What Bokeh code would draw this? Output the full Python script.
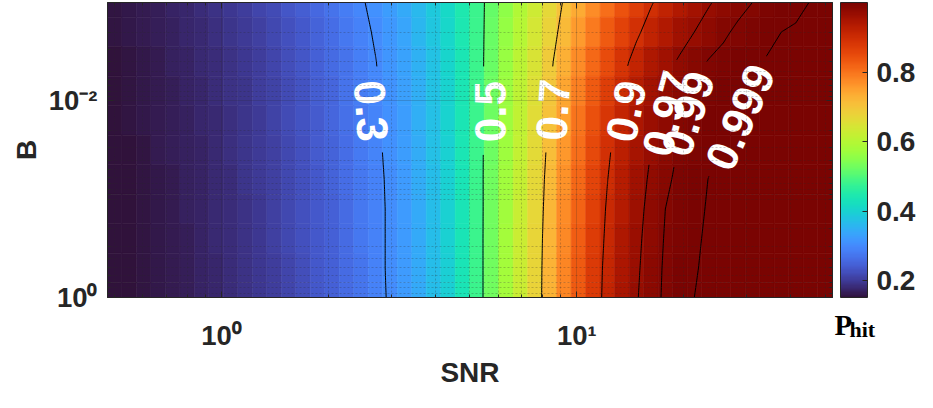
import numpy as np
from contourpy import contour_generator
from bokeh.plotting import figure
from bokeh.layouts import row
from bokeh.models import (Range1d, FixedTicker, LogAxis, ColorBar, LinearColorMapper,
                          ColumnDataSource, CustomJSTickFormatter, Label)
from bokeh.palettes import Turbo256
from bokeh.transform import transform
from bokeh.embed import file_html
from bokeh.resources import INLINE
from bokeh.core.properties import value

# ---------------- data ----------------
SNR = [0.500, 0.549, 0.603, 0.663, 0.728, 0.800, 0.878, 0.965, 1.060, 1.164,
       1.279, 1.405, 1.543, 1.695, 1.862, 2.045, 2.247, 2.468, 2.711, 2.979,
       3.272, 3.594, 3.948, 4.337, 4.764, 5.234, 5.749, 6.316, 6.938, 7.621,
       8.372, 9.197, 10.10, 11.10, 12.19, 13.39, 14.71, 16.16, 17.75, 19.50,
       21.42, 23.53, 25.85, 28.40, 31.20, 34.27, 37.65, 41.36, 45.43, 50.00]

B = [0.001, 0.001995, 0.003981, 0.007943, 0.01585, 0.03162, 0.0631, 0.1259, 0.2512, 0.5012, 1.0]

P_B0 = [0.158, 0.161, 0.164, 0.168, 0.173, 0.178, 0.184, 0.189, 0.196, 0.204,
        0.212, 0.221, 0.232, 0.243, 0.255, 0.268, 0.282, 0.296, 0.310, 0.325,
        0.342, 0.363, 0.385, 0.412, 0.444, 0.481, 0.518, 0.556, 0.593, 0.630,
        0.666, 0.704, 0.738, 0.773, 0.806, 0.838, 0.869, 0.896, 0.919, 0.939,
        0.955, 0.968, 0.977, 0.9845, 0.990, 0.9943, 0.9968, 0.9981, 0.9991, 0.9994]
P_B1 = [0.156, 0.159, 0.162, 0.166, 0.171, 0.176, 0.181, 0.187, 0.193, 0.200,
        0.208, 0.217, 0.227, 0.238, 0.249, 0.262, 0.276, 0.290, 0.304, 0.320,
        0.337, 0.358, 0.381, 0.408, 0.442, 0.481, 0.520, 0.560, 0.600, 0.639,
        0.677, 0.717, 0.755, 0.792, 0.828, 0.862, 0.892, 0.918, 0.940, 0.957,
        0.970, 0.980, 0.987, 0.9933, 0.9960, 0.9978, 0.9990, 0.9994, 0.9997, 0.9998]
P_B2 = [0.155, 0.158, 0.161, 0.165, 0.169, 0.174, 0.179, 0.185, 0.190, 0.197,
        0.205, 0.214, 0.223, 0.234, 0.245, 0.258, 0.271, 0.285, 0.299, 0.315,
        0.333, 0.354, 0.377, 0.405, 0.440, 0.481, 0.522, 0.565, 0.607, 0.648,
        0.689, 0.731, 0.773, 0.812, 0.850, 0.885, 0.916, 0.941, 0.960, 0.974,
        0.984, 0.991, 0.9951, 0.9975, 0.9987, 0.9993, 0.9996, 0.9998, 0.9999, 0.9999]
P_B3 = [0.154, 0.157, 0.160, 0.164, 0.168, 0.172, 0.177, 0.183, 0.189, 0.195,
        0.203, 0.211, 0.221, 0.231, 0.242, 0.254, 0.268, 0.282, 0.296, 0.312,
        0.330, 0.350, 0.374, 0.403, 0.439, 0.480, 0.524, 0.568, 0.611, 0.654,
        0.697, 0.742, 0.786, 0.828, 0.868, 0.902, 0.932, 0.955, 0.9715, 0.983,
        0.9907, 0.9952, 0.9977, 0.9990, 0.9994, 0.9997, 0.9998, 0.9999, 0.9999, 1.0]
P_B4 = [0.153, 0.156, 0.159, 0.163, 0.167, 0.171, 0.176, 0.181, 0.187, 0.194,
        0.201, 0.209, 0.219, 0.229, 0.240, 0.252, 0.265, 0.279, 0.294, 0.309,
        0.327, 0.348, 0.373, 0.401, 0.438, 0.480, 0.525, 0.570, 0.615, 0.659,
        0.705, 0.751, 0.798, 0.841, 0.882, 0.916, 0.944, 0.964, 0.978, 0.988,
        0.9943, 0.9975, 0.9990, 0.9995, 0.9997, 0.9998, 0.9999, 1.0, 1.0, 1.0]
P_B5 = [0.153, 0.155, 0.158, 0.162, 0.166, 0.170, 0.175, 0.180, 0.186, 0.193,
        0.200, 0.208, 0.217, 0.227, 0.239, 0.251, 0.264, 0.278, 0.293, 0.308,
        0.326, 0.347, 0.371, 0.400, 0.437, 0.480, 0.526, 0.572, 0.619, 0.664,
        0.711, 0.760, 0.807, 0.852, 0.892, 0.925, 0.952, 0.970, 0.983, 0.9917,
        0.9960, 0.9982, 0.9993, 0.9997, 0.9998, 0.9999, 1.0, 1.0, 1.0, 1.0]
P_B6 = [0.153, 0.155, 0.158, 0.161, 0.165, 0.169, 0.174, 0.179, 0.185, 0.192,
        0.199, 0.207, 0.216, 0.226, 0.237, 0.249, 0.262, 0.276, 0.291, 0.306,
        0.324, 0.345, 0.370, 0.399, 0.436, 0.480, 0.527, 0.575, 0.622, 0.668,
        0.717, 0.767, 0.814, 0.860, 0.899, 0.932, 0.957, 0.9745, 0.9867, 0.9942,
        0.9975, 0.9991, 0.9996, 0.9998, 0.9999, 1.0, 1.0, 1.0, 1.0, 1.0]
P_B7 = [0.152, 0.155, 0.158, 0.161, 0.165, 0.169, 0.174, 0.179, 0.185, 0.191,
        0.198, 0.206, 0.215, 0.225, 0.236, 0.248, 0.261, 0.275, 0.290, 0.305,
        0.323, 0.344, 0.369, 0.398, 0.436, 0.480, 0.527, 0.576, 0.625, 0.671,
        0.721, 0.772, 0.820, 0.866, 0.905, 0.937, 0.961, 0.978, 0.990, 0.9956,
        0.9982, 0.9993, 0.9997, 0.9998, 0.9999, 1.0, 1.0, 1.0, 1.0, 1.0]
P_B8 = [0.152, 0.154, 0.157, 0.160, 0.164, 0.168, 0.173, 0.179, 0.184, 0.191,
        0.198, 0.206, 0.215, 0.225, 0.236, 0.248, 0.261, 0.275, 0.290, 0.305,
        0.323, 0.344, 0.369, 0.398, 0.435, 0.480, 0.528, 0.577, 0.626, 0.674,
        0.724, 0.776, 0.825, 0.871, 0.909, 0.942, 0.964, 0.980, 0.9914, 0.9964,
        0.9986, 0.9994, 0.9997, 0.9998, 0.9999, 1.0, 1.0, 1.0, 1.0, 1.0]
P_B9 = [0.152, 0.154, 0.157, 0.160, 0.164, 0.168, 0.173, 0.178, 0.184, 0.190,
        0.197, 0.205, 0.214, 0.224, 0.235, 0.247, 0.260, 0.274, 0.290, 0.305,
        0.322, 0.343, 0.369, 0.397, 0.435, 0.480, 0.528, 0.577, 0.627, 0.675,
        0.727, 0.779, 0.828, 0.875, 0.913, 0.945, 0.966, 0.982, 0.9924, 0.9969,
        0.9988, 0.9995, 0.9998, 0.9999, 1.0, 1.0, 1.0, 1.0, 1.0, 1.0]
P_B10 = [0.152, 0.154, 0.157, 0.160, 0.164, 0.168, 0.173, 0.178, 0.184, 0.190,
         0.197, 0.205, 0.214, 0.224, 0.235, 0.247, 0.260, 0.274, 0.289, 0.304,
         0.322, 0.343, 0.368, 0.397, 0.435, 0.480, 0.528, 0.578, 0.628, 0.676,
         0.728, 0.781, 0.830, 0.877, 0.915, 0.947, 0.968, 0.983, 0.993, 0.9972,
         0.9990, 0.9996, 0.9998, 0.9999, 1.0, 1.0, 1.0, 1.0, 1.0, 1.0]
P_ROWS = [P_B0, P_B1, P_B2, P_B3, P_B4, P_B5, P_B6, P_B7, P_B8, P_B9, P_B10]

LEVELS = [0.3, 0.5, 0.7, 0.9, 0.97, 0.99, 0.999]
LEVEL_TEXT = ["0.3", "0.5", "0.7", "0.9", "0.97", "0.99", "0.999"]
LABEL_SNR = [2.709, 5.57, 8.34, 13.40, 17.49, 20.05, 28.12]
LABEL_B = [0.01256, 0.01285, 0.01227, 0.01256, 0.01315, 0.01315, 0.01413]
LABEL_ANGLE = [-86, 90, 86, 79, 75, 72, 66]
LABEL_GAP = [42, 43, 42, 43, 54, 54, 66]

X_MAJOR = [1, 10]
X_MINOR = [0.5, 0.6, 0.7, 0.8, 0.9, 2, 3, 4, 5, 6, 7, 8, 9, 20, 30, 40, 50]
Y_MAJOR = [0.01, 1]
Y_MINOR = [0.002, 0.003, 0.004, 0.005, 0.006, 0.007, 0.008, 0.009,
           0.02, 0.03, 0.04, 0.05, 0.06, 0.07, 0.08, 0.09,
           0.1, 0.2, 0.3, 0.4, 0.5, 0.6, 0.7, 0.8, 0.9]
X_TICK_TEXT = {1: "10\u2070", 10: "10\u00b9"}
Y_TICK_TEXT = {0.01: "10\u207b\u00b2", 1: "10\u2070"}
CBAR_TICKS = [0.2, 0.4, 0.6, 0.8]

# ---------------- geometry / style ----------------
H = 400
FRAME_L, FRAME_T, FRAME_W, FRAME_H = 107, 2, 725, 295
FRAME_B = FRAME_T + FRAME_H
W_MAIN = FRAME_L + FRAME_W + 1
W_SIDE = 92
TXT = "#262626"
FONT = "Liberation Sans"
CLABEL_SIZE = 44
CLABEL_SHIFT = 4  # px, compensates the 'middle' baseline of rotated digits

lx = np.log10(np.array(SNR))
ly = np.log10(np.array(B))
xe = np.concatenate([[lx[0] - (lx[1] - lx[0]) / 2], (lx[:-1] + lx[1:]) / 2,
                     [lx[-1] + (lx[-1] - lx[-2]) / 2]])
ye = np.concatenate([[ly[0] - (ly[1] - ly[0]) / 2], (ly[:-1] + ly[1:]) / 2,
                     [ly[-1] + (ly[-1] - ly[-2]) / 2]])
x_lo, x_hi = 10 ** xe[0], 10 ** xe[-1]
Z = np.array(P_ROWS)

p = figure(width=W_MAIN, height=H, x_axis_type="log", y_axis_type="log",
           x_range=Range1d(x_lo, x_hi), y_range=Range1d(1.0, 1e-3),
           output_backend="svg", toolbar_location=None,
           min_border_left=FRAME_L, min_border_right=1,
           min_border_top=FRAME_T, min_border_bottom=H - FRAME_B)
p.outline_line_color = TXT
p.outline_line_width = 1
p.background_fill_color = "white"
p.border_fill_color = "white"

mapper = LinearColorMapper(palette=Turbo256, low=float(Z.min()), high=float(Z.max()))

left, right, bottom, top, val = [], [], [], [], []
for r in range(len(B)):
    for c in range(len(SNR)):
        left.append(10 ** xe[c]); right.append(10 ** xe[c + 1])
        bottom.append(10 ** ye[r]); top.append(10 ** ye[r + 1])
        val.append(Z[r, c])
src = ColumnDataSource(dict(left=left, right=right, bottom=bottom, top=top, P=val))
p.quad(left="left", right="right", bottom="bottom", top="top", source=src,
       fill_color=transform("P", mapper), line_color=transform("P", mapper), line_width=0.6)

# ---------------- contours with label gaps ----------------
U, V = np.meshgrid(lx, ly)
gen = contour_generator(x=U, y=V, z=Z)
px_x = FRAME_W / (xe[-1] - xe[0])
px_y = FRAME_H / 3.0


def densify(line, n=12):
    pts = []
    for a, b in zip(line[:-1], line[1:]):
        for t in np.linspace(0, 1, n, endpoint=False):
            pts.append(a + (b - a) * t)
    pts.append(line[-1])
    return np.array(pts)


cxs, cys = [], []
for lev, sc, bc, gap in zip(LEVELS, LABEL_SNR, LABEL_B, LABEL_GAP):
    uc, vc = np.log10(sc), np.log10(bc)
    for line in gen.lines(lev):
        if len(line) < 2:
            continue
        seg = densify(np.asarray(line))
        d = np.hypot((seg[:, 0] - uc) * px_x, (seg[:, 1] - vc) * px_y)
        xs = 10 ** seg[:, 0]
        ys = 10 ** seg[:, 1]
        xs[d < gap] = np.nan
        ys[d < gap] = np.nan
        cxs.append(xs)
        cys.append(ys)
p.multi_line(xs=cxs, ys=cys, line_color="black", line_width=1)

# anchor positions of the rotated labels (shifted toward the text's "down" side)
ang = np.radians(LABEL_ANGLE)
ax_ = 10 ** (np.log10(LABEL_SNR) + CLABEL_SHIFT * np.sin(ang) / px_x)
ay_ = 10 ** (np.log10(LABEL_B) + CLABEL_SHIFT * np.cos(ang) / px_y)
p.text(x=list(ax_), y=list(ay_), text=LEVEL_TEXT, angle=LABEL_ANGLE, angle_units="deg",
       text_font=value(FONT), text_font_style="bold", text_font_size=f"{CLABEL_SIZE}px",
       text_color="white", text_align="center", text_baseline="middle")

# ---------------- axes / grid ----------------
top_ax = LogAxis()
right_ax = LogAxis()
p.add_layout(top_ax, "above")
p.add_layout(right_ax, "right")


def style_axis(ax, major, minor, labels=None, size="27.5px", standoff=0):
    ax.ticker = FixedTicker(ticks=major, minor_ticks=minor)
    if labels is None:
        ax.formatter = CustomJSTickFormatter(code="return ''")
        ax.major_label_text_font_size = "0px"
    else:
        ax.major_label_overrides = labels
        ax.major_label_text_font_size = size
        ax.major_label_text_font = FONT
        ax.major_label_text_font_style = "bold"
        ax.major_label_text_color = TXT
    ax.major_label_standoff = standoff
    ax.major_tick_in = 6
    ax.major_tick_out = 0
    ax.minor_tick_in = 3
    ax.minor_tick_out = 0
    ax.axis_line_color = TXT
    ax.major_tick_line_color = TXT
    ax.minor_tick_line_color = TXT
    ax.axis_label_text_font = FONT
    ax.axis_label_text_font_style = "bold"
    ax.axis_label_text_font_size = "28px"
    ax.axis_label_text_color = TXT


style_axis(p.below[0], X_MAJOR, X_MINOR, X_TICK_TEXT, standoff=22)
p.below[0].axis_label = "SNR"
p.below[0].axis_label_standoff = 3
style_axis(top_ax, X_MAJOR, X_MINOR)
style_axis(p.left[0], Y_MAJOR, Y_MINOR, Y_TICK_TEXT, standoff=10)
p.left[0].axis_label = "B"
p.left[0].axis_label_standoff = 4
style_axis(right_ax, Y_MAJOR, Y_MINOR)

for g in (p.xgrid[0], p.ygrid[0]):
    g.level = "guide"
    g.grid_line_color = TXT
    g.grid_line_alpha = 0.2
    g.minor_grid_line_color = TXT
    g.minor_grid_line_alpha = 0.25
    g.minor_grid_line_dash = "2 2"

# ---------------- side figure: colorbar + P_hit ----------------
# frame aligned with the main frame; data coords equal screen pixels
side = figure(width=W_SIDE, height=H,
              x_range=Range1d(W_MAIN, W_MAIN + W_SIDE), y_range=Range1d(FRAME_B, FRAME_T),
              output_backend="svg", toolbar_location=None,
              x_axis_location=None, y_axis_location=None,
              min_border_left=0, min_border_right=0,
              min_border_top=FRAME_T, min_border_bottom=H - FRAME_B)
side.outline_line_color = None
side.grid.visible = False
side.background_fill_color = "white"
side.border_fill_color = "white"

cb = ColorBar(color_mapper=mapper, ticker=FixedTicker(ticks=CBAR_TICKS),
              width=27, height=FRAME_H, location=(7, 0),
              padding=0, margin=0,
              major_label_text_font=FONT, major_label_text_font_style="bold",
              major_label_text_font_size="28px", major_label_text_color=TXT,
              label_standoff=9, major_tick_in=5, major_tick_out=0,
              major_tick_line_color=TXT, minor_tick_line_color=None,
              bar_line_color=TXT, bar_line_width=1,
              background_fill_alpha=0, border_line_color=None)
side.add_layout(cb)

side.add_layout(Label(x=W_MAIN + 1, y=324, text="P", text_font="Liberation Serif",
                      text_font_style="bold", text_font_size="29px", text_color="black",
                      text_align="left", text_baseline="alphabetic"), "below")
side.add_layout(Label(x=W_MAIN + 16, y=329, text="hit", text_font="Liberation Serif",
                      text_font_style="bold", text_font_size="22px", text_color="black",
                      text_align="left", text_baseline="alphabetic"), "below")

layout = row(p, side, spacing=0)
open("out.html", "w").write(file_html(layout, INLINE))
